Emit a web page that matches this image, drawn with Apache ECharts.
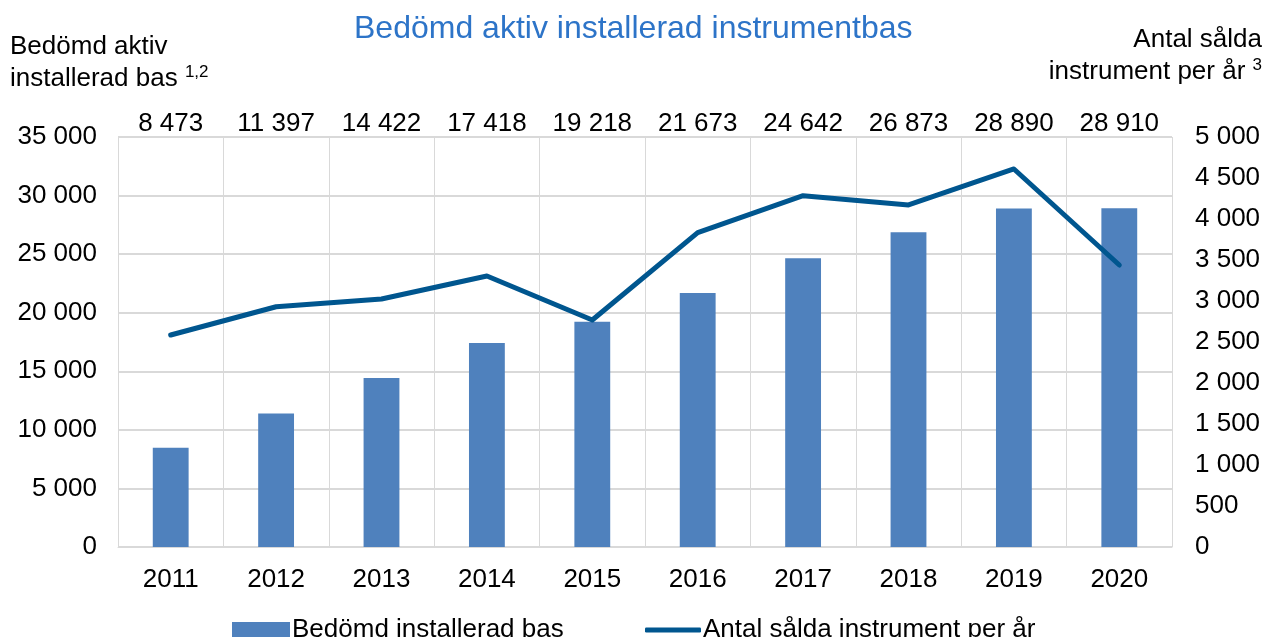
<!DOCTYPE html>
<html><head><meta charset="utf-8">
<script src="https://cdn.jsdelivr.net/npm/echarts@6/dist/echarts.min.js"></script>
<style>html,body{margin:0;padding:0;background:#fff}#c{width:1274px;height:637px}</style>
</head><body><div id="c"></div>
<script>
var years = ['2011','2012','2013','2014','2015','2016','2017','2018','2019','2020'];
var installedBase = [8473, 11397, 14422, 17418, 19218, 21673, 24642, 26873, 28890, 28910];
var soldPerYear = [2585, 2930, 3024, 3305, 2768, 3833, 4284, 4171, 4610, 3439];
var leftTicks = [0, 5000, 10000, 15000, 20000, 25000, 30000, 35000];
var rightTicks = [0, 500, 1000, 1500, 2000, 2500, 3000, 3500, 4000, 4500, 5000];

function fmt(v){ return String(v).replace(/\B(?=(\d{3})+(?!\d))/g, ' '); }
var F = '"Liberation Sans", Arial, sans-serif';
var FS = 26;
var chart = echarts.init(document.getElementById('c'));
var supRich = {s:{fontSize:17, fill:'#000', verticalAlign:'top', lineHeight:30, padding:[0,0,12,0]}};
chart.setOption({
  animation:false,
  textStyle:{fontFamily:F},
  title:[
    {text:'Bedömd aktiv installerad instrumentbas', left:349, top:8,
     textStyle:{fontFamily:F, fontSize:32, fontWeight:'normal', color:'#2D74C8'}},
  ],
  graphic:[
    {type:'text', left:10, top:34, style:{text:'Bedömd aktiv', font:FS+'px '+F, fill:'#000'}},
    {type:'text', left:10, top:64, style:{text:'installerad bas {s|1,2}', font:FS+'px '+F, fill:'#000', rich:supRich}},
    {type:'text', right:12, top:27, style:{text:'Antal sålda', font:FS+'px '+F, fill:'#000'}},
    {type:'text', right:12, top:57, style:{text:'instrument per år {s|3}', font:FS+'px '+F, fill:'#000', rich:supRich}}
  ],
  legend:[
    {top:617, left:232, padding:0, itemWidth:58, itemHeight:16,
     textStyle:{fontFamily:F, fontSize:FS, color:'#000', padding:[0,0,0,-3]},
     data:[{name:'Bedömd installerad bas', icon:'rect'}]},
    {top:617, left:645, padding:0, itemWidth:56, itemHeight:5,
     textStyle:{fontFamily:F, fontSize:FS, color:'#000', padding:[0,0,0,-3]},
     data:[{name:'Antal sålda instrument per år', icon:'roundRect'}]}
  ],
  grid:{left:118, right:102, top:137, bottom:90, containLabel:false},
  xAxis:[
    {type:'category', data:years, position:'bottom',
     axisLine:{lineStyle:{color:'#d9d9d9', width:1}}, axisTick:{show:false},
     axisLabel:{fontFamily:F, fontSize:FS, color:'#000', margin:20},
     splitLine:{show:true, lineStyle:{color:'#d9d9d9', width:1}}},
    {type:'category', data:installedBase.map(fmt), position:'top',
     axisLine:{show:false}, axisTick:{show:false},
     axisLabel:{fontFamily:F, fontSize:FS, color:'#000', margin:0}}
  ],
  yAxis:[
    {type:'value', min:leftTicks[0], max:leftTicks[leftTicks.length-1], interval:5000,
     axisLine:{show:false}, axisTick:{show:false},
     axisLabel:{fontFamily:F, fontSize:FS, color:'#000', margin:21, formatter:fmt},
     splitLine:{show:true, lineStyle:{color:'#d9d9d9', width:2}}},
    {type:'value', min:rightTicks[0], max:rightTicks[rightTicks.length-1], interval:500,
     axisLine:{show:false}, axisTick:{show:false},
     axisLabel:{fontFamily:F, fontSize:FS, color:'#000', margin:23, formatter:fmt},
     splitLine:{show:false}}
  ],
  series:[
    {name:'Bedömd installerad bas', type:'bar', data:installedBase, xAxisIndex:0, yAxisIndex:0,
     barWidth:'34%', itemStyle:{color:'#4F81BD'}},
    {name:'Antal sålda instrument per år', type:'line', data:soldPerYear, xAxisIndex:0, yAxisIndex:1,
     symbol:'none', lineStyle:{color:'#00568F', width:5, cap:'round', join:'round'}, itemStyle:{color:'#00568F'}}
  ]
});
</script></body></html>
